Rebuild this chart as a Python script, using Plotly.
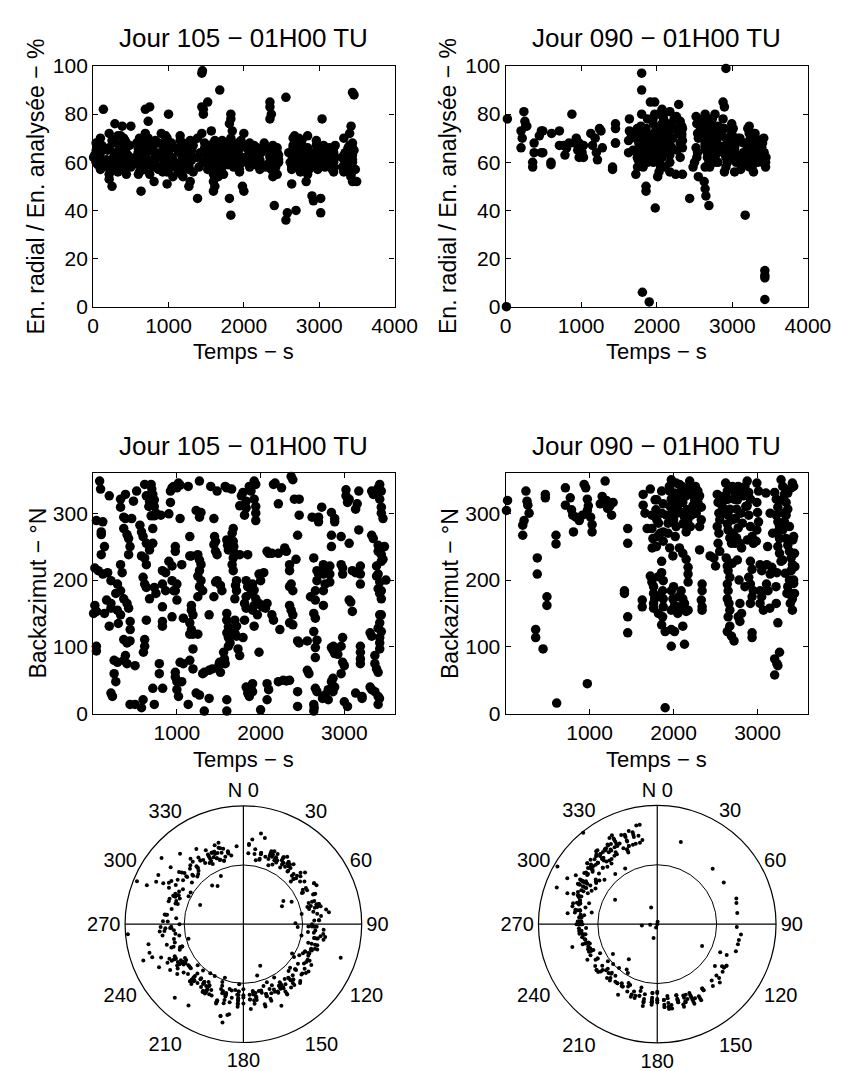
import plotly.graph_objects as go

# ---- Jour 105 : temps (s), azimut (deg N), energie radiale / analysee (%) ----
t105 = [
    77, 88, 38, 115, 96, 96, 135, 96, 20, 60,
    115, 173, 212, 20, 40, 135, 212, 212, 288, 327,
    192, 38, 38, 250, 290, 250, 270, 212, 230, 327,
    327, 192, 270, 160, 5, 300, 385, 365, 385, 365,
    404, 423, 440, 423, 327, 346, 290, 327, 365, 404,
    423, 442, 442, 365, 404, 440, 385, 404, 365, 440,
    500, 500, 460, 481, 519, 615, 635, 558, 577, 596,
    635, 673, 577, 615, 635, 596, 615, 635, 673, 635,
    615, 615, 600, 596, 577, 692, 700, 712, 730, 730,
    750, 692, 730, 673, 665, 712, 712, 730, 750, 712,
    730, 808, 904, 790, 790, 830, 827, 827, 865, 827,
    865, 827, 827, 923, 942, 962, 923, 904, 942, 942,
    962, 942, 1000, 981, 1000, 1000, 1019, 1038, 1038, 981,
    981, 1058, 981, 981, 1000, 1000, 1019, 1058, 1077, 1038,
    1077, 1135, 1154, 1154, 1173, 1173, 1173, 1192, 1154, 1173,
    1154, 1192, 1250, 1192, 1154, 1192, 1135, 1269, 1230, 1288,
    1270, 1250, 1270, 1288, 1270, 1250, 1288, 1270, 1308, 1250,
    1230, 1270, 1327, 1308, 1327, 1385, 1423, 1385, 1385, 1404,
    1480, 1442, 1450, 1462, 1442, 1462, 1480, 1462, 1480, 1442,
    1520, 1538, 1500, 1520, 1510, 1558, 1568, 1577, 1577, 1596,
    1596, 1605, 1615, 1596, 1596, 1615, 1596, 1615, 1635, 1615,
    1596, 1596, 1654, 1673, 1660, 1673, 1680, 1673, 1673, 1660,
    1673, 1712, 1700, 1712, 1692, 1692, 1712, 1692, 1712, 1730,
    1750, 1750, 1770, 1790, 1750, 1790, 1827, 1827, 1808, 1846,
    1827, 1846, 1827, 1808, 1827, 1808, 1827, 1846, 1865, 1885,
    1923, 1942, 1923, 1942, 1942, 1942, 1904, 1923, 1885, 1942,
    1923, 1904, 1962, 1981, 2000, 1923, 1981, 1904, 1885, 1904,
    1865, 2000, 1981, 2020, 2058, 2077, 2038, 2096, 2077, 2135,
    2077, 2096, 2077, 2135, 2154, 2154, 2173, 2212, 2212, 2230,
    2212, 2270, 2308, 2346, 2250, 2288, 2308, 2346, 2346, 2365,
    2346, 2385, 2346, 2365, 2385, 2346, 2385, 2365, 2385, 2404,
    2461, 2461, 2442, 2423, 2442, 2461, 2442, 2442, 2558, 2558,
    2577, 2596, 2615, 2692, 2692, 2635, 2635, 2654, 2635, 2673,
    2654, 2635, 2640, 2635, 2654, 2654, 2673, 2673, 2692, 2673,
    2654, 2654, 2730, 2750, 2740, 2770, 2750, 2770, 2750, 2770,
    2750, 2750, 2808, 2808, 2846, 2846, 2846, 2827, 2827, 2827,
    2846, 2865, 2885, 2870, 2904, 2923, 2865, 2846, 2885, 2865,
    2885, 2885, 2962, 2962, 2980, 2980, 2980, 2962, 2980, 3000,
    2962, 3000, 3038, 3020, 3020, 3038, 3058, 3058, 3058, 3077,
    3096, 3096, 3135, 3135, 3154, 3135, 3173, 3173, 3192, 3192,
    3192, 3192, 3192, 3192, 3192, 3212, 3212, 3327, 3346, 3404,
    3423, 3442, 3423, 3442, 3462, 3442, 3327, 3346, 3404, 3423,
    3404, 3442, 3462, 3442, 3385, 3404, 3385, 3423, 3404, 3442,
    3423, 3442, 3423, 3442, 3423, 3404, 3442, 3423, 3423, 3423,
    3308, 3327, 3365, 3365, 3385, 3404, 3308, 3327, 3365, 3404,
    3420, 3404, 3497, 3480,
]
az105 = [
    348, 336, 289, 287, 272, 268, 250, 238, 218, 214,
    209, 211, 199, 162, 153, 150, 165, 158, 155, 148,
    131, 101, 94, 80, 77, 60, 48, 31, 26, 321,
    309, 326, 180, 170, 150, 135, 328, 294, 292, 277,
    268, 262, 250, 238, 223, 211, 194, 184, 172, 165,
    158, 138, 126, 111, 106, 109, 87, 75, 80, 14,
    14, 72, 292, 318, 333, 343, 326, 282, 272, 265,
    255, 245, 236, 233, 223, 204, 194, 189, 172, 140,
    111, 101, 92, 21, 9, 343, 336, 328, 320, 310,
    300, 296, 296, 318, 310, 277, 255, 189, 180, 38,
    14, 297, 299, 75, 60, 38, 160, 214, 211, 194,
    184, 138, 131, 333, 338, 340, 316, 228, 221, 199,
    184, 145, 194, 184, 170, 338, 345, 342, 292, 250,
    243, 223, 62, 55, 48, 36, 26, 48, 75, 77,
    143, 340, 265, 236, 236, 162, 155, 148, 136, 126,
    119, 119, 119, 97, 80, 67, 14, 348, 304, 301,
    294, 238, 230, 223, 214, 206, 199, 190, 184, 175,
    31, 28, 4, 60, 62, 65, 67, 148, 23, 340,
    333, 292, 265, 258, 253, 243, 238, 197, 199, 175,
    192, 184, 72, 62, 77, 92, 82, 75, 340, 338,
    260, 252, 245, 150, 140, 130, 121, 114, 106, 101,
    21, 4, 336, 277, 270, 258, 250, 243, 233, 223,
    214, 199, 192, 184, 172, 140, 131, 121, 116, 97,
    87, 238, 326, 331, 311, 114, 318, 308, 297, 238,
    199, 190, 175, 165, 158, 140, 40, 31, 340, 333,
    348, 343, 321, 310, 300, 289, 194, 185, 180, 172,
    162, 155, 148, 209, 199, 131, 92, 45, 40, 33,
    26, 6, 165, 160, 158, 165, 211, 240, 243, 240,
    45, 36, 21, 148, 140, 343, 345, 314, 240, 126,
    48, 50, 49, 50, 338, 248, 243, 223, 214, 194,
    190, 184, 162, 155, 148, 136, 133, 355, 350, 321,
    321, 297, 267, 231, 109, 106, 33, 11, 109, 65,
    60, 175, 294, 294, 287, 233, 150, 143, 123, 110,
    99, 14, 9, 4, 84, 38, 33, 214, 209, 199,
    184, 170, 309, 26, 23, 28, 223, 218, 209, 194,
    184, 162, 36, 21, 301, 267, 250, 221, 209, 197,
    99, 95, 90, 101, 93, 89, 53, 48, 40, 33,
    292, 287, 265, 223, 218, 209, 114, 101, 77, 72,
    60, 18, 11, 335, 326, 316, 321, 255, 170, 167,
    153, 214, 211, 306, 314, 31, 333, 275, 221, 209,
    194, 101, 92, 82, 75, 26, 23, 333, 328, 338,
    343, 333, 321, 309, 292, 300, 267, 262, 252, 248,
    243, 238, 231, 228, 221, 209, 206, 197, 187, 184,
    180, 172, 148, 148, 136, 128, 123, 114, 106, 97,
    121, 116, 87, 75, 67, 62, 40, 36, 33, 26,
    23, 14, 200, 250,
]
e105 = [
    62, 66, 60, 58, 64, 70, 82, 57, 63, 59,
    67, 61, 55, 62, 65, 60, 72, 53, 76, 63,
    58, 61, 68, 50, 64, 69, 57, 66, 60, 71,
    56, 65, 62, 59, 62, 68, 75, 63, 58, 66,
    61, 69, 55, 64, 60, 67, 62, 57, 65, 70,
    59, 63, 68, 61, 57, 66, 60, 64, 71, 62,
    75, 58, 63, 67, 60, 56, 65, 62, 68, 59,
    48, 64, 61, 70, 57, 66, 60, 63, 58, 67,
    62, 69, 55, 64, 60, 72, 66, 61, 59, 68,
    83, 82, 70, 57, 63, 65, 60, 77, 55, 64,
    61, 52, 72, 66, 58, 62, 69, 64, 57, 61,
    68, 63, 59, 65, 60, 71, 56, 63, 67, 58,
    70, 62, 80, 51, 65, 64, 59, 68, 62, 56,
    66, 61, 70, 63, 57, 65, 60, 54, 66, 62,
    58, 64, 71, 59, 67, 55, 63, 60, 69, 57,
    64, 54, 62, 68, 60, 65, 56, 63, 67, 52,
    60, 66, 58, 64, 50, 62, 69, 57, 65, 60,
    63, 59, 67, 61, 56, 45, 64, 70, 62, 58,
    66, 97, 98, 82, 83, 80, 64, 60, 68, 72,
    85, 63, 61, 57, 67, 60, 73, 64, 58, 66,
    55, 62, 69, 52, 60, 65, 48, 57, 63, 50,
    59, 68, 62, 67, 54, 60, 90, 64, 58, 66,
    61, 69, 56, 63, 60, 65, 58, 67, 61, 55,
    64, 62, 68, 59, 66, 60, 80, 78, 76, 73,
    70, 67, 64, 45, 38, 62, 59, 66, 58, 64,
    61, 56, 68, 62, 59, 66, 63, 60, 67, 57,
    64, 61, 69, 50, 48, 65, 62, 58, 66, 61,
    63, 72, 60, 67, 63, 58, 66, 61, 68, 64,
    60, 65, 62, 67, 59, 63, 66, 60, 57, 64,
    61, 68, 59, 63, 66, 58, 65, 85, 83, 80,
    78, 67, 62, 57, 64, 60, 54, 66, 59, 42,
    63, 61, 66, 58, 64, 60, 62, 55, 87, 36,
    39, 64, 60, 40, 66, 58, 63, 67, 51, 61,
    70, 57, 64, 60, 66, 62, 68, 59, 65, 71,
    60, 63, 70, 56, 64, 61, 66, 59, 63, 69,
    57, 64, 60, 66, 71, 62, 55, 52, 64, 59,
    66, 61, 58, 63, 46, 44, 60, 65, 62, 57,
    64, 60, 67, 62, 58, 66, 61, 64, 57, 63,
    69, 60, 78, 45, 39, 65, 61, 67, 62, 58,
    64, 60, 66, 63, 59, 65, 62, 57, 64, 60,
    66, 61, 58, 63, 56, 62, 67, 70, 64, 60,
    67, 57, 62, 89, 88, 66, 61, 58, 64, 75,
    72, 60, 65, 52, 63, 59, 66, 61, 56, 64,
    60, 68, 58, 63, 55, 67, 61, 57, 65, 60,
    62, 56, 64, 59, 66, 61, 58, 63, 60, 66,
    54, 62, 52, 57,
]

# ---- Jour 090 ----
t090 = [
    10, 23, 204, 204, 220, 242, 255, 265, 280, 358,
    358, 377, 377, 446, 473, 473, 492, 492, 600, 600,
    608, 712, 712, 770, 785, 800, 808, 838, 877, 915,
    935, 954, 973, 985, 973, 973, 1012, 1030, 1030, 1127,
    1150, 1185, 1200, 1215, 1242, 1262, 1280, 1415, 1415, 1454,
    1454, 1454, 1454, 1627, 1627, 1638, 1638, 1660, 1685, 1723,
    1742, 1742, 1754, 1745, 1723, 1742, 1762, 1762, 1775, 1762,
    1762, 1800, 1800, 1800, 1810, 1858, 1877, 1858, 1877, 1877,
    1858, 1858, 1877, 1870, 1877, 1877, 1870, 1858, 1900, 1900,
    1973, 1954, 1973, 1992, 1915, 1935, 1935, 1954, 1992, 1980,
    1973, 1992, 2012, 1973, 2050, 1973, 2012, 1973, 2070, 2090,
    2070, 2110, 2090, 2130, 2110, 2150, 2070, 2110, 2150, 2090,
    2110, 2130, 2150, 2110, 2130, 2192, 2173, 2212, 2230, 2212,
    2170, 2173, 2173, 2173, 2173, 2040, 2030, 2050, 2012, 2290,
    2310, 2290, 2330, 2310, 2330, 2310, 2340, 2340, 2330, 2340,
    2340, 2270, 2250, 2435, 2480, 2500, 2520, 2530, 2540, 2550,
    2520, 2540, 2530, 2550, 2560, 2580, 2620, 2640, 2650, 2670,
    2650, 2640, 2650, 2670, 2690, 2627, 2640, 2650, 2670, 2640,
    2650, 2640, 2660, 2670, 2650, 2670, 2640, 2690, 2720, 2720,
    2750, 2735, 2770, 2750, 2735, 2790, 2810, 2735, 2770, 2810,
    2830, 2790, 2810, 2770, 2790, 2877, 2895, 2915, 2877, 2895,
    2915, 2935, 2950, 2915, 2935, 2895, 2915, 2950, 2935, 2915,
    2935, 2935, 2992, 3012, 2992, 3000, 3012, 2992, 2985, 3030,
    3050, 3030, 3050, 3030, 3070, 3107, 3125, 3146, 3110, 3150,
    3170, 3204, 3223, 3242, 3223, 3242, 3262, 3242, 3262, 3242,
    3262, 3280, 3204, 3204, 3242, 3262, 3230, 3242, 3223, 3230,
    3220, 3280, 3300, 3320, 3340, 3360, 3340, 3320, 3300, 3340,
    3360, 3380, 3400, 3415, 3400, 3380, 3360, 3400, 3415, 3390,
    3415, 3415, 3400, 3430, 3430, 3430, 3430, 3440, 3445, 3440,
    1780, 1790, 1820, 1840, 1795, 1820, 1800, 1820, 1950, 1960,
    2000, 2020, 2030, 2060, 2100, 2140, 2160, 2200, 2250, 2260,
    2000, 2060, 2080, 2600, 2610, 2700, 2700, 2710, 2760, 2800,
    2820, 2850, 2860, 2700, 2760, 2780, 2850, 2880, 3100, 3150,
    3180, 3120, 3300, 3310, 3360, 3380, 3420, 3300, 3330, 3350,
]
az090 = [
    304, 319, 282, 267, 289, 333, 318, 312, 300, 126,
    114, 233, 209, 97, 328, 323, 175, 162, 267, 254,
    16, 338, 312, 323, 305, 297, 272, 294, 289, 297,
    343, 338, 321, 311, 304, 45, 294, 283, 272, 314,
    325, 348, 319, 307, 311, 297, 316, 184, 180, 277,
    255, 145, 121, 170, 160, 328, 312, 300, 277, 336,
    297, 277, 262, 248, 206, 197, 190, 180, 172, 165,
    158, 300, 290, 320, 265, 333, 314, 300, 272, 258,
    228, 211, 199, 184, 172, 160, 145, 133, 123, 9,
    350, 333, 321, 311, 297, 285, 270, 248, 236, 300,
    184, 172, 162, 155, 150, 126, 123, 101, 343, 333,
    323, 316, 301, 294, 284, 272, 248, 240, 231, 184,
    172, 165, 153, 131, 104, 348, 338, 328, 311, 297,
    290, 219, 209, 197, 155, 300, 280, 310, 330, 333,
    326, 316, 309, 280, 290, 245, 194, 184, 170, 160,
    155, 300, 320, 236, 233, 221, 328, 316, 300, 290,
    280, 270, 255, 243, 325, 310, 345, 333, 321, 306,
    297, 284, 275, 263, 255, 233, 221, 214, 204, 194,
    184, 172, 165, 155, 145, 131, 123, 116, 109, 321,
    306, 292, 278, 263, 255, 255, 248, 330, 340, 335,
    326, 165, 150, 145, 138, 348, 331, 321, 311, 297,
    280, 265, 255, 228, 216, 204, 194, 184, 175, 165,
    121, 114, 345, 333, 316, 301, 287, 275, 258, 223,
    214, 184, 175, 165, 155, 194, 184, 158, 223, 209,
    219, 331, 321, 309, 297, 287, 280, 272, 262, 250,
    240, 228, 82, 58, 72, 92, 75, 136, 165, 211,
    190, 350, 340, 328, 316, 306, 297, 287, 275, 262,
    252, 243, 233, 223, 214, 200, 190, 180, 172, 165,
    155, 345, 338, 340, 265, 195, 200, 240, 220, 180,
    320, 305, 285, 270, 250, 205, 175, 150, 340, 310,
    290, 265, 345, 320, 340, 325, 305, 280, 300, 340,
    190, 175, 160, 300, 320, 340, 290, 270, 320, 300,
    285, 340, 310, 225, 230, 200, 190, 260, 330, 300,
    270, 250, 320, 300, 330, 280, 260, 230, 210, 180,
]
e090 = [
    0, 78, 73, 66, 70, 81, 77, 75, 75, 60,
    58, 64, 68, 71, 73, 64, 64, 73, 60, 59,
    72, 67, 73, 67, 63, 67, 66, 68, 80, 68,
    70, 65, 68, 65, 62, 66, 64, 62, 67, 72,
    67, 70, 64, 61, 74, 73, 66, 58, 57, 76,
    74, 68, 68, 69, 64, 78, 73, 72, 65, 70,
    74, 62, 61, 58, 55, 65, 70, 66, 72, 62,
    68, 97, 90, 80, 6, 74, 78, 72, 64, 62,
    50, 48, 60, 66, 63, 70, 68, 72, 67, 2,
    85, 76, 80, 74, 85, 70, 66, 60, 63, 41,
    62, 67, 71, 66, 74, 68, 65, 70, 82, 78,
    76, 72, 80, 70, 73, 66, 62, 58, 64, 68,
    72, 65, 70, 66, 70, 76, 81, 74, 78, 70,
    75, 56, 60, 63, 68, 60, 56, 58, 54, 84,
    77, 72, 75, 68, 71, 62, 55, 66, 72, 69,
    74, 65, 55, 45, 58, 60, 79, 76, 72, 70,
    66, 64, 62, 54, 77, 74, 78, 80, 76, 72,
    70, 68, 66, 64, 60, 52, 49, 46, 62, 58,
    65, 70, 68, 72, 66, 69, 67, 42, 70, 76,
    74, 72, 70, 66, 63, 65, 60, 78, 80, 75,
    73, 68, 72, 66, 70, 85, 83, 99, 78, 74,
    70, 66, 62, 58, 60, 56, 62, 66, 70, 67,
    68, 64, 76, 74, 72, 70, 68, 64, 62, 56,
    60, 64, 68, 66, 70, 62, 58, 64, 57, 60,
    38, 74, 72, 70, 75, 68, 66, 64, 62, 60,
    58, 56, 68, 66, 70, 67, 69, 66, 62, 58,
    60, 72, 70, 68, 66, 64, 62, 60, 65, 63,
    61, 66, 64, 62, 60, 65, 67, 63, 61, 66,
    64, 70, 68, 15, 13, 12, 3, 60, 62, 58,
    72, 75, 68, 63, 60, 58, 64, 70, 78, 72,
    68, 64, 80, 75, 70, 76, 72, 66, 74, 79,
    64, 70, 66, 73, 70, 75, 71, 68, 72, 70,
    67, 74, 71, 58, 60, 63, 66, 64, 70, 68,
    64, 62, 72, 70, 68, 66, 64, 62, 60, 64,
]

assert len(t105) == len(az105) == len(e105)
assert len(t090) == len(az090) == len(e090)

titles = ["Jour 105 − 01H00 TU", "Jour 090 − 01H00 TU"]
angle_ticks = [0, 30, 60, 90, 120, 150, 180, 210, 240, 270, 300, 330]
angle_labels = ["N 0", "30", "60", "90", "120", "150", "180", "210", "240", "270", "300", "330"]

W, H = 849, 1071
FONT = "Liberation Sans, Arial, Helvetica, sans-serif"


def px(x):
    return x / W


def py(y):
    return 1 - y / H


fig = go.Figure()

dot = dict(color="black", size=9.5)
fig.add_trace(go.Scatter(x=t105, y=e105, mode="markers", marker=dot, xaxis="x", yaxis="y", cliponaxis=False))
fig.add_trace(go.Scatter(x=t090, y=e090, mode="markers", marker=dot, xaxis="x2", yaxis="y2", cliponaxis=False))
fig.add_trace(go.Scatter(x=t105, y=az105, mode="markers", marker=dot, xaxis="x3", yaxis="y3", cliponaxis=False))
fig.add_trace(go.Scatter(x=t090, y=az090, mode="markers", marker=dot, xaxis="x4", yaxis="y4", cliponaxis=False))

# polar diagrams: cross lines then points
for sp, az, en in [("polar", az105, e105), ("polar2", az090, e090)]:
    for a in (0, 90):
        fig.add_trace(go.Scatterpolar(r=[100, 0, 100], theta=[a, a, a + 180], mode="lines",
                                      line=dict(color="black", width=1.2), subplot=sp, hoverinfo="skip"))
    fig.add_trace(go.Scatterpolar(r=en, theta=az, mode="markers",
                                  marker=dict(color="black", size=4), subplot=sp))

axis_common = dict(showline=True, mirror="ticks", linecolor="black", linewidth=1.2,
                   ticks="inside", ticklen=5, tickcolor="black", showgrid=False, zeroline=False,
                   tickfont=dict(family=FONT, size=21, color="black"))

left_x = [px(82), px(394)]
right_x = [px(509), px(822)]
top_y = [py(293), py(47)]
mid_y = [py(709), py(463)]

fig.update_layout(
    width=W, height=H, margin=dict(l=0, r=0, t=0, b=0),
    paper_bgcolor="white", plot_bgcolor="white", showlegend=False,
    font=dict(family=FONT, color="black"),
    xaxis=dict(domain=left_x, range=[0, 4000], tickvals=[0, 1000, 2000, 3000, 4000], anchor="y", **axis_common),
    yaxis=dict(domain=top_y, range=[0, 100], tickvals=[0, 20, 40, 60, 80, 100], anchor="x", **axis_common),
    xaxis2=dict(domain=right_x, range=[0, 4000], tickvals=[0, 1000, 2000, 3000, 4000], anchor="y2", **axis_common),
    yaxis2=dict(domain=top_y, range=[0, 100], tickvals=[0, 20, 40, 60, 80, 100], anchor="x2", **axis_common),
    xaxis3=dict(domain=left_x, range=[0, 3600], tickvals=[1000, 2000, 3000], anchor="y3", **axis_common),
    yaxis3=dict(domain=mid_y, range=[0, 360], tickvals=[0, 100, 200, 300], anchor="x3", **axis_common),
    xaxis4=dict(domain=right_x, range=[0, 3600], tickvals=[1000, 2000, 3000], anchor="y4", **axis_common),
    yaxis4=dict(domain=mid_y, range=[0, 360], tickvals=[0, 100, 200, 300], anchor="x4", **axis_common),
)

polar_common = dict(
    bgcolor="white",
    radialaxis=dict(range=[0, 100], tickvals=[50], showticklabels=False, ticks="",
                    showline=False, showgrid=True, gridcolor="black", gridwidth=1.2),
    angularaxis=dict(rotation=90, direction="clockwise", tickvals=angle_ticks, ticktext=angle_labels,
                     showline=True, linecolor="black", linewidth=1.2, showgrid=False, ticks="",
                     tickfont=dict(family=FONT, size=20, color="black")),
)
fig.update_layout(
    polar=dict(domain=dict(x=[px(115), px(360)], y=[py(1047), py(801)]), **polar_common),
    polar2=dict(domain=dict(x=[px(543), px(789)], y=[py(1047), py(801)]), **polar_common),
)

ann = []
for cx, title in [(238, titles[0]), (665.5, titles[1])]:
    ann.append(dict(x=px(cx), y=py(18), text=title, font=dict(size=26)))
    ann.append(dict(x=px(cx), y=py(435), text=title, font=dict(size=26)))
    ann.append(dict(x=px(cx), y=py(339), text="Temps − s", font=dict(size=22)))
    ann.append(dict(x=px(cx), y=py(756), text="Temps − s", font=dict(size=22)))
for cx in (23, 450):
    ann.append(dict(x=px(cx), y=py(170), text="En. radial / En. analysée − %", textangle=-90, font=dict(size=23)))
    ann.append(dict(x=px(cx + 2), y=py(586), text="Backazimut − °N", textangle=-90, font=dict(size=23)))
for a in ann:
    a.update(xref="paper", yref="paper", showarrow=False, xanchor="center", yanchor="middle")
    a["font"].update(family=FONT, color="black")
fig.update_layout(annotations=ann)

fig.write_html("out.html")
